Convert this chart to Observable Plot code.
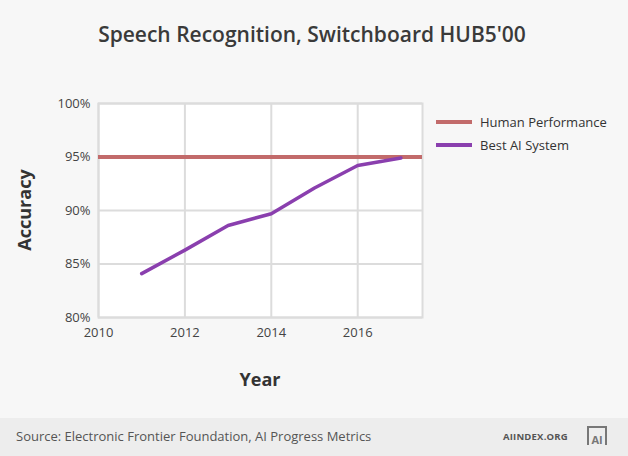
<!DOCTYPE html>
<html><head><meta charset="utf-8">
<script src="https://cdn.jsdelivr.net/npm/d3@7"></script>
<script src="https://cdn.jsdelivr.net/npm/@observablehq/plot@0.6"></script>
<style>
body{margin:0;background:#f7f7f7;font-family:"Open Sans",sans-serif;}
#wrap{position:relative;width:628px;height:456px;overflow:hidden;background:#f7f7f7;}
#title{position:absolute;top:20px;left:0;width:624px;text-align:center;font-size:21px;font-weight:600;color:#3a3a3a;}
#chart{position:absolute;top:0;left:0;}
.ylab{position:absolute;left:24px;top:210px;transform:translate(-50%,-50%) rotate(-90deg);font-size:18px;font-weight:700;color:#333;}
.xlab{position:absolute;left:260px;top:367px;transform:translateX(-50%);font-size:18px;font-weight:700;color:#333;}
#legend{position:absolute;left:436px;top:110px;font-size:13px;color:#333;}
.li{display:flex;align-items:center;height:23px;}
.sw{width:36px;height:4px;margin-right:8px;}
#footer{position:absolute;left:0;top:418px;width:628px;height:38px;background:#ededed;}
#src{position:absolute;left:16px;top:9px;font-size:13px;color:#555;}
#org{position:absolute;left:503px;top:12px;font-size:9.5px;font-weight:700;color:#555;letter-spacing:0.2px;}
#logo{position:absolute;left:587px;top:8px;width:16px;height:17px;border-top:2px solid #777;border-right:2px solid #777;border-left:2px solid #777;font-size:11px;font-weight:700;color:#777;line-height:24px;text-align:center;}
</style></head>
<body>
<div id="wrap">
  <div id="title">Speech Recognition, Switchboard HUB5'00</div>
  <div id="chart"></div>
  <div class="ylab">Accuracy</div>
  <div class="xlab">Year</div>
  <div id="legend"></div>
  <div id="footer"><div id="src">Source: Electronic Frontier Foundation, AI Progress Metrics</div><div id="org">AIINDEX.ORG</div><div id="logo">AI</div></div>
</div>
<script>
const years = [2011, 2012, 2013, 2014, 2015, 2016, 2017];
const bestAI = [84.1, 86.3, 88.6, 89.7, 92.1, 94.2, 94.9];
const humanPerformance = 95;
const seriesNames = ["Human Performance", "Best AI System"];
const seriesColors = ["#c26b6b", "#8a3fae"];
const xTicks = [2010, 2012, 2014, 2016];
const yTicks = [80, 85, 90, 95, 100];

const aiData = years.map((y, i) => ({year: y, acc: bestAI[i]}));

const plot = Plot.plot({
  width: 628,
  height: 418,
  marginTop: 103,
  marginBottom: 101,
  marginLeft: 98,
  marginRight: 206,
  style: {fontFamily: "Open Sans, sans-serif", fontSize: "13px", color: "#444", background: "transparent"},
  x: {domain: [2010, 2017.5], ticks: xTicks, tickFormat: d => String(d), tickSize: 0, tickPadding: 10, label: null},
  y: {domain: [80, 100], ticks: yTicks, tickFormat: d => d + "%", tickSize: 0, tickPadding: 8, label: null},
  marks: [
    Plot.frame({fill: "white", stroke: "#dcdcdc", strokeWidth: 2}),
    Plot.gridX(xTicks, {stroke: "#dcdcdc", strokeOpacity: 1, strokeWidth: 2}),
    Plot.gridY(yTicks, {stroke: "#dcdcdc", strokeOpacity: 1, strokeWidth: 2}),
    Plot.ruleY([humanPerformance], {stroke: seriesColors[0], strokeWidth: 4}),
    Plot.line(aiData, {x: "year", y: "acc", stroke: seriesColors[1], strokeWidth: 3.5})
  ]
});
document.getElementById("chart").appendChild(plot);

const legend = document.getElementById("legend");
seriesNames.forEach((n, i) => {
  const d = document.createElement("div");
  d.className = "li";
  d.innerHTML = `<span class="sw" style="background:${seriesColors[i]}"></span>${n}`;
  legend.appendChild(d);
});
</script>
</body></html>
